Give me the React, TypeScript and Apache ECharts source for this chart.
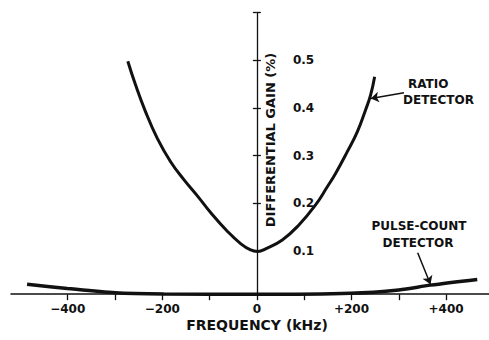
import React, { useEffect, useRef } from "react";
import * as echarts from "echarts";

// Frequency (kHz) and differential gain (%)
const ratioFreq = [-273, -256.5, -235.4, -210.6, -182.5, -154.4, -125, -97.9, -62.6, -34.5, -13.3, 2, 18.4, 53.7, 88.8, 124.1, 148.9, 166.4, 191.2, 212.3, 229.8, 240.4, 249];
const ratioGain = [0.498, 0.448, 0.392, 0.3365, 0.2875, 0.25, 0.215, 0.181, 0.142, 0.116, 0.1026, 0.0995, 0.105, 0.1236, 0.155, 0.197, 0.235, 0.263, 0.3085, 0.35, 0.396, 0.427, 0.4655];

const pulseFreq = [-486, -401, -299, -197, 0, 198, 300, 367, 466];
const pulseGain = [0.031, 0.022, 0.013, 0.0105, 0.0098, 0.012, 0.019, 0.029, 0.041];

const xTicks = [-400, -300, -200, -100, 0, 100, 200, 300, 400];
const xLabels = [-400, -200, 0, 200, 400];
const yTicks = [0.1, 0.2, 0.3, 0.4, 0.5, 0.6];
const yLabels = [0.1, 0.2, 0.3, 0.4, 0.5];

// arrow pointers (data coordinates): [fromX, fromY, toX, toY]
const ratioArrow = [311, 0.432, 241, 0.42];
const pulseArrow = [340, 0.097, 367, 0.031];

const FONT = "DejaVu Sans";

const X_MIN = -520;
const X_MAX = 490;
const GRID_LEFT = 11;
const GRID_RIGHT = 0.4;
const WIDTH = 489;

export default function App() {
  const ref = useRef<HTMLDivElement>(null);
  useEffect(() => {
    if (!ref.current) return;
    const chart = echarts.init(ref.current, undefined, { renderer: "svg" });
    const ink = "#111";
    // place the vertical axis where frequency = 0
    const plotW = WIDTH - GRID_LEFT - GRID_RIGHT;
    const zeroOffset = -((0 - X_MIN) / (X_MAX - X_MIN)) * plotW;
    const tickStyle = { color: ink, width: 1.3 };
    chart.setOption({
      animation: false,
      backgroundColor: "#fff",
      grid: { left: GRID_LEFT, right: GRID_RIGHT, top: 12.5, bottom: 45.8, containLabel: false },
      xAxis: {
        type: "value",
        min: X_MIN,
        max: X_MAX,
        axisLine: { onZero: false, lineStyle: { color: ink, width: 1.5 } },
        axisTick: { show: true, customValues: xTicks, length: 6, lineStyle: tickStyle },
        axisLabel: {
          customValues: xLabels,
          margin: 9,
          color: ink,
          fontFamily: FONT,
          fontWeight: "bold",
          fontSize: 12,
          formatter: (v: number) => (v > 0 ? "+" + v : v < 0 ? "\u2212" + Math.abs(v) : "0"),
        },
        splitLine: { show: false },
      },
      yAxis: [
        {
          type: "value",
          min: 0.01,
          max: 0.6,
          position: "left",
          offset: zeroOffset,
          axisLine: { onZero: false, lineStyle: { color: ink, width: 1.3 } },
          axisTick: { show: true, customValues: yTicks, length: 4, lineStyle: tickStyle },
          axisLabel: {
            customValues: yLabels,
            inside: true,
            margin: 36,
            color: ink,
            fontFamily: FONT,
            fontWeight: "bold",
            fontSize: 12,
            formatter: (v: number) => v.toFixed(1),
          },
          splitLine: { show: false },
        },
        {
          type: "value",
          min: 0.01,
          max: 0.6,
          position: "left",
          offset: zeroOffset,
          axisLine: { show: false, onZero: false },
          axisTick: { show: true, inside: true, customValues: yTicks, length: 4, lineStyle: tickStyle },
          axisLabel: { show: false },
          splitLine: { show: false },
        },
      ],
      graphic: [
        {
          type: "text",
          x: 270,
          y: 140,
          rotation: Math.PI / 2,
          style: {
            text: "DIFFERENTIAL GAIN (%)",
            fill: ink,
            fontFamily: FONT,
            fontWeight: "bold",
            fontSize: 13,
            align: "center",
            verticalAlign: "middle",
          },
        },
        {
          type: "text",
          x: 257,
          y: 325,
          style: {
            text: "FREQUENCY (kHz)",
            fill: ink,
            fontFamily: FONT,
            fontWeight: "bold",
            fontSize: 14,
            align: "center",
            verticalAlign: "middle",
          },
        },
        {
          type: "text",
          x: 408,
          y: 84,
          style: { text: "RATIO", fill: ink, fontFamily: FONT, fontWeight: "bold", fontSize: 12, align: "left", verticalAlign: "middle" },
        },
        {
          type: "text",
          x: 403,
          y: 100,
          style: { text: "DETECTOR", fill: ink, fontFamily: FONT, fontWeight: "bold", fontSize: 12, align: "left", verticalAlign: "middle" },
        },
        {
          type: "text",
          x: 419,
          y: 226,
          style: { text: "PULSE-COUNT", fill: ink, fontFamily: FONT, fontWeight: "bold", fontSize: 12, align: "center", verticalAlign: "middle" },
        },
        {
          type: "text",
          x: 418,
          y: 243,
          style: { text: "DETECTOR", fill: ink, fontFamily: FONT, fontWeight: "bold", fontSize: 12, align: "center", verticalAlign: "middle" },
        },
      ],
      series: [
        {
          name: "Ratio detector",
          type: "line",
          data: ratioFreq.map((f, i) => [f, ratioGain[i]]),
          smooth: 0.45,
          showSymbol: false,
          clip: false,
          lineStyle: { color: ink, width: 3 },
          markLine: {
            silent: true,
            symbol: ["none", "arrow"],
            symbolSize: 8,
            label: { show: false },
            lineStyle: { color: ink, width: 1.5, type: "solid" },
            data: [
              [
                { coord: [ratioArrow[0], ratioArrow[1]] },
                { coord: [ratioArrow[2], ratioArrow[3]] },
              ],
              [
                { coord: [pulseArrow[0], pulseArrow[1]] },
                { coord: [pulseArrow[2], pulseArrow[3]] },
              ],
            ],
          },
        },
        {
          name: "Pulse-count detector",
          type: "line",
          data: pulseFreq.map((f, i) => [f, pulseGain[i]]),
          smooth: 0.3,
          showSymbol: false,
          clip: false,
          lineStyle: { color: ink, width: 3.5 },
        },
      ],
    });
    return () => chart.dispose();
  }, []);
  return (
    <div
      ref={ref}
      style={{ position: "absolute", left: 0, top: 0, width: 489, height: 340 }}
    />
  );
}
